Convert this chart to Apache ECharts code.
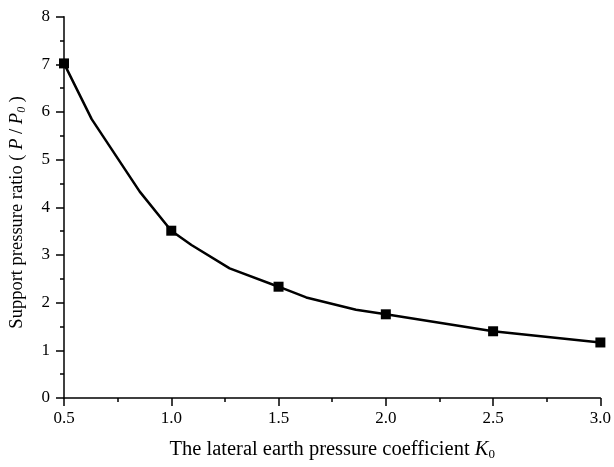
<!DOCTYPE html>
<html>
<head>
<meta charset="utf-8">
<script src="https://cdn.jsdelivr.net/npm/echarts@6/dist/echarts.min.js"></script>
<style>html,body{margin:0;padding:0;background:#fff}#c{width:614px;height:467px}</style>
</head>
<body>
<div id="c"></div>
<script>
// curve (all polyline vertices)
const curveK = [0.5, 0.629, 0.853, 1.0, 1.094, 1.272, 1.5, 1.629, 1.861, 2.0, 2.5, 3.0];
const curveP = [7.02, 5.85, 4.33, 3.51, 3.21, 2.72, 2.335, 2.11, 1.85, 1.756, 1.40, 1.165];
// marker points
const markK = [0.5, 1.0, 1.5, 2.0, 2.5, 3.0];
const markP = [7.02, 3.51, 2.335, 1.756, 1.40, 1.165];

const font = 'Liberation Serif';
const chart = echarts.init(document.getElementById('c'));
const axisCommon = {
  axisLine: {show: true, lineStyle: {color: '#000', width: 1.5}},
  axisTick: {show: true, inside: false, length: 8, lineStyle: {color: '#000', width: 1.5}},
  minorTick: {show: true, splitNumber: 2, length: 4, lineStyle: {color: '#000', width: 1.5}},
  splitLine: {show: false},
  axisLabel: {color: '#000', fontFamily: font, fontSize: 17}
};
const xRich = {
  n: {fontFamily: font, fontSize: 20.5, color: '#000'},
  i: {fontFamily: font, fontSize: 20.5, fontStyle: 'italic', color: '#000'},
  s: {fontFamily: font, fontSize: 13, color: '#000', padding: [10, 0, 0, 0]}
};
const yRich = {
  n: {fontFamily: font, fontSize: 18.5, color: '#000'},
  i: {fontFamily: font, fontSize: 18.5, fontStyle: 'italic', color: '#000'},
  si: {fontFamily: font, fontSize: 12, fontStyle: 'italic', color: '#000', padding: [9, 0, 0, 0]}
};
chart.setOption({
  animation: false,
  backgroundColor: '#fff',
  grid: {left: 64, right: 12.5, top: 16.7, bottom: 69, containLabel: false},
  xAxis: Object.assign({}, axisCommon, {
    type: 'value', min: 0.5, max: 3.0, interval: 0.5,
    axisLabel: Object.assign({}, axisCommon.axisLabel, {margin: 12, formatter: v => v.toFixed(1)}),
    name: '{n|The lateral earth pressure coefficient }{i|K}{s|0}',
    nameLocation: 'middle', nameGap: 40,
    nameTextStyle: {color: '#000', fontFamily: font, fontSize: 20.5, rich: xRich}
  }),
  yAxis: Object.assign({}, axisCommon, {
    type: 'value', min: 0, max: 8, interval: 1,
    axisLabel: Object.assign({}, axisCommon.axisLabel, {margin: 14}),
    name: '{n|Support pressure ratio ( }{i|P}{n| / }{i|P}{si|0}{n| )}',
    nameLocation: 'middle', nameGap: 36, nameRotate: 90,
    nameTextStyle: {color: '#000', fontFamily: font, fontSize: 18.5, rich: yRich, padding: [0, 10, 0, 0]}
  }),
  series: [
    {
      type: 'line',
      data: curveK.map((k, i) => [k, curveP[i]]),
      showSymbol: false, symbol: 'none',
      lineStyle: {color: '#000', width: 2.5},
      z: 2
    },
    {
      type: 'scatter',
      data: markK.map((k, i) => [k, markP[i]]),
      symbol: 'rect', symbolSize: 10,
      itemStyle: {color: '#000', opacity: 1},
      z: 3
    }
  ]
});
</script>
</body>
</html>
